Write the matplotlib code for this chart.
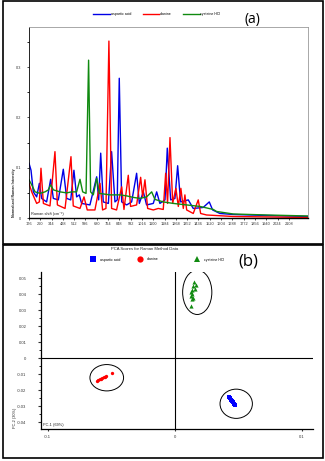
import matplotlib
matplotlib.use("Agg")
import matplotlib.pyplot as plt
from matplotlib.patches import Ellipse, Rectangle
from matplotlib.ticker import MultipleLocator, FixedLocator, FuncFormatter

plt.rcParams['font.family'] = ['Liberation Sans', 'DejaVu Sans']

# ---------------- data: Raman spectra (panel a) ----------------
series_names = ["aspartic acid", "alanine", "cysteine HCl"]
series_colors = ["#0000e6", "#ff0000", "#108a10"]

asp_x = [176, 191, 208, 233, 253, 270, 307, 337, 357, 394, 431, 456, 486, 510, 530, 550, 567, 629,
         679, 694, 709, 728, 766, 790, 815, 832, 847, 865, 902, 939, 976, 996, 1026, 1050, 1100,
         1125, 1149, 1187, 1204, 1229, 1261, 1281, 1303, 1360, 1397, 1471, 1516, 1541, 1595, 1694,
         1942, 2250]
asp_y = [0.109, 0.095, 0.052, 0.042, 0.069, 0.039, 0.032, 0.077, 0.039, 0.036, 0.097, 0.039, 0.036,
         0.095, 0.042, 0.046, 0.029, 0.026, 0.082, 0.036, 0.129, 0.032, 0.029, 0.132, 0.032, 0.036,
         0.278, 0.032, 0.026, 0.032, 0.089, 0.029, 0.052, 0.026, 0.029, 0.052, 0.029, 0.036, 0.139,
         0.036, 0.039, 0.104, 0.032, 0.036, 0.019, 0.021, 0.032, 0.016, 0.009, 0.007, 0.005, 0.003]

ala_x = [176, 196, 233, 253, 265, 283, 332, 369, 387, 444, 488, 505, 555, 585, 609, 666, 704, 723,
         748, 770, 790, 827, 865, 882, 914, 931, 976, 1006, 1021, 1038, 1058, 1100, 1137, 1174,
         1192, 1206, 1224, 1244, 1268, 1286, 1305, 1323, 1335, 1348, 1397, 1434, 1452, 1496, 1694,
         2250]
ala_y = [0.069, 0.052, 0.029, 0.032, 0.099, 0.029, 0.024, 0.132, 0.026, 0.019, 0.122, 0.024, 0.019,
         0.042, 0.016, 0.016, 0.069, 0.016, 0.019, 0.352, 0.019, 0.016, 0.062, 0.017, 0.085, 0.023,
         0.026, 0.081, 0.042, 0.076, 0.019, 0.016, 0.019, 0.017, 0.089, 0.029, 0.160, 0.029, 0.059,
         0.023, 0.059, 0.019, 0.046, 0.016, 0.009, 0.036, 0.009, 0.006, 0.003, 0.001]

cys_x = [176, 196, 221, 258, 295, 320, 337, 357, 406, 456, 493, 530, 555, 575, 600, 619, 634, 654,
         679, 699, 778, 852, 902, 951, 1001, 1050, 1088, 1112, 1174, 1249, 1348, 1447, 1546, 1570,
         1694, 1942, 2250]
cys_y = [0.076, 0.066, 0.052, 0.049, 0.052, 0.056, 0.066, 0.056, 0.052, 0.050, 0.052, 0.052, 0.077,
         0.052, 0.049, 0.314, 0.052, 0.046, 0.079, 0.049, 0.046, 0.046, 0.044, 0.041, 0.039, 0.042,
         0.052, 0.037, 0.032, 0.029, 0.026, 0.023, 0.017, 0.013, 0.008, 0.006, 0.004]

raman_ticks = [176, 260, 344, 428, 512, 596, 680, 764, 848, 932, 1016, 1100, 1184, 1268, 1352,
               1436, 1520, 1604, 1688, 1772, 1856, 1940, 2024, 2108]

# ---------------- data: PCA scores (panel b) ----------------
asp_pc1 = [0.0430, 0.0437, 0.0445, 0.0452, 0.0460, 0.0467, 0.0473]
asp_pc2 = [-0.0245, -0.0252, -0.0260, -0.0268, -0.0277, -0.0285, -0.0292]
ala_pc1 = [-0.0610, -0.0600, -0.0590, -0.0580, -0.0570, -0.0560, -0.0550, -0.0540, -0.0490]
ala_pc2 = [-0.0140, -0.0136, -0.0131, -0.0127, -0.0123, -0.0119, -0.0115, -0.0112, -0.0092]
cys_pc1 = [0.0152, 0.0165, 0.0146, 0.0157, 0.0133, 0.0126, 0.0139, 0.0131, 0.0144, 0.0133, 0.0126]
cys_pc2 = [0.0480, 0.0460, 0.0450, 0.0433, 0.0428, 0.0413, 0.0405, 0.0388, 0.0378, 0.0368, 0.0330]

ellipse_cx = [0.0485, -0.0535, 0.0178]
ellipse_cy = [-0.0285, -0.0122, 0.0413]
ellipse_w = [0.0255, 0.0265, 0.0230]
ellipse_h = [0.0183, 0.0165, 0.0278]

pca_yticks = [0.05, 0.04, 0.03, 0.02, 0.01, 0, -0.01, -0.02, -0.03, -0.04]
pca_xticks = [-0.1, 0, 0.1]

# ---------------- figure ----------------
W, H = 325, 461
fig = plt.figure(figsize=(W / 100, H / 100), dpi=100)

# panel borders
fig.patches.append(Rectangle((3 / W, 1 - 244 / H), 320 / W, 243 / H, transform=fig.transFigure,
                             fill=False, ec="black", lw=1.2))
fig.patches.append(Rectangle((3 / W, 1 - 458 / H), 320 / W, 213 / H, transform=fig.transFigure,
                             fill=False, ec="black", lw=1.2))

# ---------- panel (a) ----------
ax1 = fig.add_axes([29 / W, 1 - 218 / H, 279 / W, 191 / H])
lines = []
for xs, ys, c, n in [(asp_x, asp_y, series_colors[0], series_names[0]),
                     (ala_x, ala_y, series_colors[1], series_names[1]),
                     (cys_x, cys_y, series_colors[2], series_names[2])]:
    ln, = ax1.plot(xs, ys, color=c, lw=1.0, label=n)
    lines.append(ln)
ax1.set_xlim(176, 2250)
ax1.set_ylim(0, 0.38)
ax1.xaxis.set_major_locator(FixedLocator(raman_ticks))
ax1.xaxis.set_major_formatter(FuncFormatter(lambda v, p: "%d" % round(v)))
ax1.yaxis.set_major_locator(MultipleLocator(0.1))
ax1.yaxis.set_minor_locator(MultipleLocator(0.05))
ax1.yaxis.set_major_formatter(FuncFormatter(lambda v, p: "%g" % round(v, 2)))
ax1.tick_params(axis="both", labelsize=2.8, colors="#333333", length=1.5, width=0.6, pad=1.5)
ax1.tick_params(axis="y", which="minor", length=1.5, width=0.6)
ax1.tick_params(axis="y", pad=4)
for s in ["top", "right"]:
    ax1.spines[s].set_color("#9a9a9a")
    ax1.spines[s].set_linewidth(0.6)
ax1.spines["left"].set_color("black")
ax1.spines["left"].set_linewidth(0.6)
ax1.spines["bottom"].set_color("black")
ax1.spines["bottom"].set_linewidth(1.0)
ax1.text(0.006, 0.008, "Raman shift (cm\u207b\u00b9)", transform=ax1.transAxes, fontsize=2.8,
         ha="left", va="bottom", color="#222222")
fig.text(14 / W, 1 - 217 / H, "Normalized Raman Intensity", rotation=90, fontsize=2.6,
         ha="center", va="bottom", color="#222222", fontweight="bold")

fig.legend(lines, series_names, loc="center", bbox_to_anchor=(157 / W, 1 - 14 / H), ncol=3,
           frameon=False, fontsize=2.6, handlelength=4.6, columnspacing=3.2, handletextpad=0.2)
fig.text(252 / W, 1 - 19 / H, "(a)", fontsize=10, ha="center", va="center", family="Open Sans")

# ---------- panel (b) ----------
ax2 = fig.add_axes([41 / W, 1 - 429 / H, 272 / W, 157 / H])
ax2.set_xlim(-0.1053, 0.109)
ax2.set_ylim(-0.0443, 0.054)
ax2.axhline(0, color="black", lw=0.8, zorder=1)
ax2.axvline(0, color="black", lw=0.8, zorder=1)
h_asp, = ax2.plot(asp_pc1, asp_pc2, "s", color="#0000ff", ms=2.2, mew=0, label=series_names[0])
h_ala, = ax2.plot(ala_pc1, ala_pc2, "o", color="#ff0000", ms=2.4, mew=0, label=series_names[1])
h_cys, = ax2.plot(cys_pc1, cys_pc2, "^", color="#108a10", ms=3.0, mew=0, label=series_names[2])
for cx, cy, w, h in zip(ellipse_cx, ellipse_cy, ellipse_w, ellipse_h):
    ax2.add_patch(Ellipse((cx, cy), w, h, fill=False, ec="black", lw=0.7))
ax2.yaxis.set_major_locator(FixedLocator(pca_yticks))
ax2.yaxis.set_minor_locator(MultipleLocator(0.005))
ax2.xaxis.set_major_locator(FixedLocator(pca_xticks))
ax2.yaxis.set_major_formatter(FuncFormatter(lambda v, p: "%g" % round(v, 3)))
ax2.xaxis.set_major_formatter(FuncFormatter(lambda v, p: "%g" % round(v, 3)))
ax2.tick_params(axis="both", labelsize=3.0, colors="#333333", length=2.5, width=0.8, pad=8)
ax2.tick_params(axis="x", pad=3, length=1.5)
ax2.tick_params(axis="y", which="minor", length=1.5, width=0.6)
for s in ["top", "right"]:
    ax2.spines[s].set_visible(False)
ax2.spines["left"].set_linewidth(0.9)
ax2.spines["bottom"].set_linewidth(0.9)
ax2.text(0.008, 0.012, "PC-1 (69%)", transform=ax2.transAxes, fontsize=2.8, ha="left",
         va="bottom", color="#222222")
fig.text(15 / W, 1 - 418 / H, "PC-2 (30%)", rotation=90, fontsize=2.8, ha="center",
         va="center", color="#222222")
fig.text(145 / W, 1 - 248.5 / H, "PCA Scores for Raman Method Data", fontsize=3.0,
         ha="center", va="center", color="#222222")

# legend of panel (b): one entry per marker position
leg_markers = ["s", "o", "^"]
leg_colors = ["#0000ff", "#ff0000", "#108a10"]
leg_marker_x = [93, 140, 197]
leg_fs = 2.6
hl = 1.6
for mk, col, mx, name in zip(leg_markers, leg_colors, leg_marker_x, series_names):
    hnd = plt.Line2D([], [], ls="", marker=mk, color=col, ms=4.5, mew=0)
    left_px = mx - 0.5 * hl * leg_fs * 100 / 72
    fig.legend([hnd], [name], loc="center left", bbox_to_anchor=(left_px / W, 1 - 259.5 / H),
               frameon=False, fontsize=leg_fs, handlelength=hl, handletextpad=1.2,
               borderpad=0, borderaxespad=0)
fig.text(248.5 / W, 1 - 261.5 / H, "(b)", fontsize=12, ha="center", va="center", family="Open Sans")

fig.savefig("out.png", dpi=100)
